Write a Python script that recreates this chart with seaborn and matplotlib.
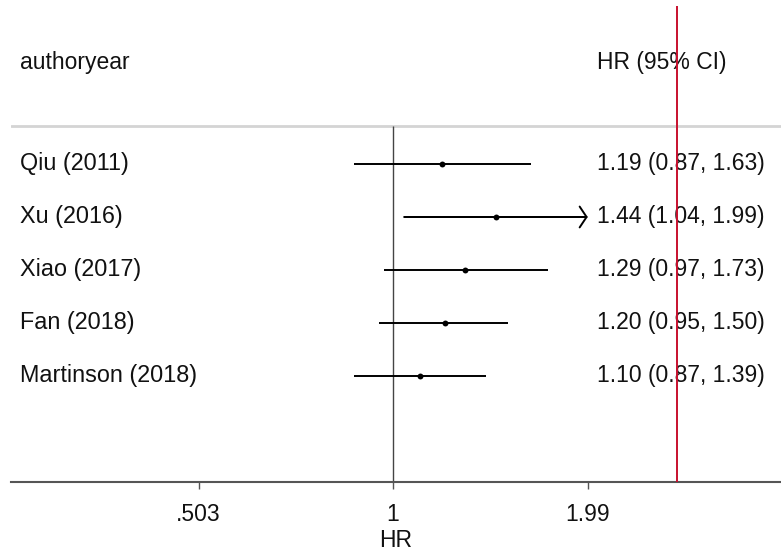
import numpy as np
import matplotlib
matplotlib.use('Agg')
import matplotlib.pyplot as plt
import matplotlib.transforms as mtransforms
import seaborn as sns

# study data
studies = ['Qiu (2011)', 'Xu (2016)', 'Xiao (2017)', 'Fan (2018)', 'Martinson (2018)']
hr = [1.19, 1.44, 1.29, 1.20, 1.10]
lo = [0.87, 1.04, 0.97, 0.95, 0.87]
hi = [1.63, 1.99, 1.73, 1.50, 1.39]
xticks = [0.503, 1, 1.99]
xtick_labels = ['.503', '1', '1.99']
x_max = 1.99  # CIs beyond this get an arrow

sns.set_theme(style='white')
plt.rcParams['font.family'] = ['Liberation Sans', 'DejaVu Sans']
plt.rcParams['text.color'] = '#111111'
plt.rcParams['xtick.color'] = '#111111'
plt.rcParams['axes.labelcolor'] = '#111111'
fs = 16.5

fig = plt.figure(figsize=(7.81, 5.54), dpi=100)
W, H = 781, 554
ax = fig.add_axes([11 / W, (H - 482) / H, (W - 11) / W, 482 / H])

rows = np.arange(len(studies))
ax.set_xscale('log')
ax.set_xlim(np.exp(-1.35), np.exp(1.371))
ax.set_ylim(6.0, -3.094)

# reference line at 1
ax.vlines(1, -0.72, 6.0, color='#444444', lw=1.0, zorder=1)

# confidence intervals
for i in rows:
    if hi[i] >= x_max:
        ax.hlines(i, lo[i], x_max * 0.995, color='black', lw=1.4, zorder=2)
        ax.annotate('', xy=(x_max, i), xytext=(lo[i], i),
                    arrowprops=dict(arrowstyle='->,head_length=0.5,head_width=0.75',
                                    color='black', lw=1.4, shrinkA=0, shrinkB=0,
                                    mutation_scale=10))
    else:
        ax.hlines(i, lo[i], hi[i], color='black', lw=1.4, zorder=2)

sns.scatterplot(x=hr, y=rows, ax=ax, color='black', s=18, edgecolor='black',
                linewidth=0, zorder=3, legend=False)

# header separator and red line
ax.axhline(-0.72, color='#d4d4d4', lw=2.0, zorder=0)
ax.vlines(np.exp(1.0035), -2.98, 6.0, color='#c8102e', lw=1.4, zorder=4)

# text columns
trans = mtransforms.blended_transform_factory(ax.transAxes, ax.transData)
x_left = (20 - 11) / (W - 11)
x_right = (597 - 11) / (W - 11)
ax.text(x_left, -1.92, 'authoryear', transform=trans, fontsize=fs,
        va='center', ha='left')
ax.text(x_right, -1.92, 'HR (95% CI)', transform=trans, fontsize=fs,
        va='center', ha='left')
for i in rows:
    ax.text(x_left, i, studies[i], transform=trans, fontsize=16.8, va='center', ha='left')
    ax.text(x_right, i, f'{hr[i]:.2f} ({lo[i]:.2f}, {hi[i]:.2f})', transform=trans,
            fontsize=fs, va='center', ha='left', zorder=3)

# axes styling
for s in ['top', 'right', 'left']:
    ax.spines[s].set_visible(False)
ax.spines['bottom'].set_color('#555555')
ax.spines['bottom'].set_linewidth(1.5)
ax.set_yticks([])
ax.set_xticks(xticks)
ax.set_xticklabels(xtick_labels, fontsize=fs)
ax.xaxis.set_minor_locator(matplotlib.ticker.NullLocator())
ax.tick_params(axis='x', bottom=True, length=5, width=1, color='#555555', pad=10)
ax.set_xlabel('HR', fontsize=fs, labelpad=2)

fig.savefig('out.png', dpi=100)
